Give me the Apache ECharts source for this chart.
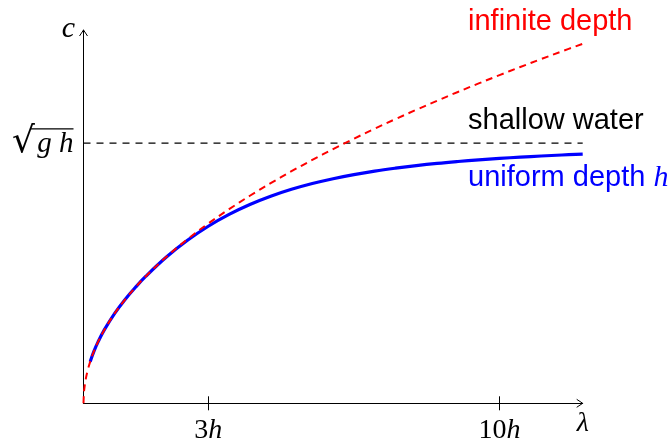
<!DOCTYPE html>
<html><head><meta charset="utf-8">
<script src="https://cdn.jsdelivr.net/npm/echarts@6/dist/echarts.min.js"></script>
<style>html,body{margin:0;padding:0;background:#fff}#c{width:672px;height:445px}</style>
</head><body><div id="c"></div>
<script>
// wavelength in units of h, speed in units of sqrt(g h)
const lambdaInf = [0,0.01,0.02,0.05,0.1,0.17,0.25,0.35,0.5,0.75,1,1.25,1.5,2,2.5,3,3.5,4,4.5,5,5.5,6,6.5,7,7.5,8,8.5,9,9.5,10,10.5,11,11.5,12];
const cInf = [0,0.0399,0.0564,0.0892,0.1262,0.1645,0.1995,0.2360,0.2821,0.3455,0.3989,0.4460,0.4886,0.5642,0.6308,0.6910,0.7463,0.7979,0.8463,0.8921,0.9356,0.9772,1.0171,1.0555,1.0926,1.1284,1.1631,1.1968,1.2296,1.2616,1.2927,1.3231,1.3529,1.3820];
const lambdaUni = [0.16,0.25,0.35,0.5,0.75,1,1.25,1.5,2,2.5,3,3.5,4,4.5,5,5.5,6,6.5,7,7.5,8,8.5,9,9.5,10,10.5,11,11.5,12];
const cUni = [0.1596,0.1995,0.2360,0.2821,0.3455,0.3989,0.4459,0.4885,0.5631,0.6267,0.6806,0.7260,0.7641,0.7958,0.8225,0.8448,0.8634,0.8791,0.8926,0.9039,0.9138,0.9223,0.9295,0.9359,0.9415,0.9463,0.9507,0.9545,0.9580];
const shallowX = [0,12];
const shallowC = [1,1];
const xTicks = [3,10];
const xTickLabels = {3:'3', 10:'10'};
const xMax = 12, yMax = 1.435;

const zip = (a,b) => a.map((v,i)=>[v,b[i]]);
const serif = '"Liberation Serif", "DejaVu Serif", serif';
const sans = '"Liberation Sans", Arial, sans-serif';

const chart = echarts.init(document.getElementById('c'), null, {renderer:'canvas'});
const option = {
  animation: false,
  backgroundColor: '#fff',
  grid: {left: 83.5, right: 89.3, top: 30, bottom: 41.7, containLabel: false},
  xAxis: [{
    type: 'value', min: 0, max: xMax,
    splitLine: {show:false},
    axisLine: {show:true, onZero:false, lineStyle:{color:'#000', width:1}},
    axisTick: {show:true, customValues: xTicks, length: 7, lineStyle:{color:'#000', width:1}},
    axisLabel: {show:true, customValues: xTicks, margin: 13,
      formatter: v => '{n|' + xTickLabels[v] + '}{i|h}',
      rich: {
        n: {fontFamily: serif, fontSize: 28, color:'#000'},
        i: {fontFamily: serif, fontStyle:'italic', fontSize: 28, color:'#000'}
      }}
  },{
    type: 'value', min: 0, max: xMax, position:'bottom',
    splitLine: {show:false},
    axisLine: {show:false},
    axisTick: {show:true, inside:true, customValues: xTicks, length: 7, lineStyle:{color:'#000', width:1}},
    axisLabel: {show:false}
  }],
  yAxis: {
    type: 'value', min: 0, max: yMax,
    splitLine: {show:false},
    axisLine: {show:true, onZero:false, lineStyle:{color:'#000', width:1}},
    axisTick: {show:false},
    axisLabel: {show:false}
  },
  series: [
    {name:'shallow water', type:'line', data: zip(shallowX, shallowC), symbol:'none',
     lineStyle:{color:'#000', width:1.2, type:[7,6]}, z:2},
    {name:'uniform depth', type:'line', data: zip(lambdaUni, cUni), symbol:'none', smooth:0.4,
     lineStyle:{color:'#0000ff', width:3.2}, z:3},
    {name:'infinite depth', type:'line', data: zip(lambdaInf, cInf), symbol:'none', smooth:0.4,
     lineStyle:{color:'#ff0000', width:2, type:[7,5]}, z:4}
  ]
};
chart.setOption(option);

const o = chart.convertToPixel({gridIndex:0}, [0,0]);
const xEnd = chart.convertToPixel({gridIndex:0}, [xMax,0]);
const yEnd = chart.convertToPixel({gridIndex:0}, [0,yMax]);
const one = chart.convertToPixel({gridIndex:0}, [0,1]);
const arrowStyle = {stroke:'#000', lineWidth:1, fill:'none'};
chart.setOption({graphic: [
  {type:'polyline', shape:{points:[[xEnd[0]-6,o[1]-4],[xEnd[0],o[1]],[xEnd[0]-6,o[1]+4]]}, style:arrowStyle, z:10},
  {type:'polyline', shape:{points:[[o[0]-4,yEnd[1]+6],[o[0],yEnd[1]],[o[0]+4,yEnd[1]+6]]}, style:arrowStyle, z:10},
  {type:'text', x: o[0]-15, y: yEnd[1]-1, style:{text:'c', font:'italic 30px ' + serif, fill:'#000', align:'center', verticalAlign:'middle'}},
  {type:'text', x: xEnd[0], y: o[1]+20, style:{text:'λ', font:'italic 28px ' + serif, fill:'#000', align:'center', verticalAlign:'middle'}},
  {type:'text', x: 12, y: one[1]-1, style:{text:'√', font:'36px "DejaVu Sans", serif', fill:'#000', align:'left', verticalAlign:'middle'}},
  {type:'text', x: 73.5, y: one[1]+1, style:{text:'g h', font:'italic 29px ' + serif, fill:'#000', align:'right', verticalAlign:'middle'}},
  {type:'line', shape:{x1:30, y1:one[1]-14.3, x2:73.5, y2:one[1]-14.3}, style:{stroke:'#000', lineWidth:1.2}},
  {type:'text', x: 468, y: 22, style:{text:'infinite depth', font:'29px ' + sans, fill:'#ff0000', align:'left', verticalAlign:'middle'}},
  {type:'text', x: 468, y: 121, style:{text:'shallow water', font:'29px ' + sans, fill:'#000', align:'left', verticalAlign:'middle'}},
  {type:'text', x: 468, y: 178, style:{rich:{a:{font:'29px ' + sans, fill:'#0000ff'}, b:{font:'italic 30px ' + serif, fill:'#0000ff'}}, text:'{a|uniform depth }{b|h}', align:'left', verticalAlign:'middle'}}
]});
</script></body></html>
